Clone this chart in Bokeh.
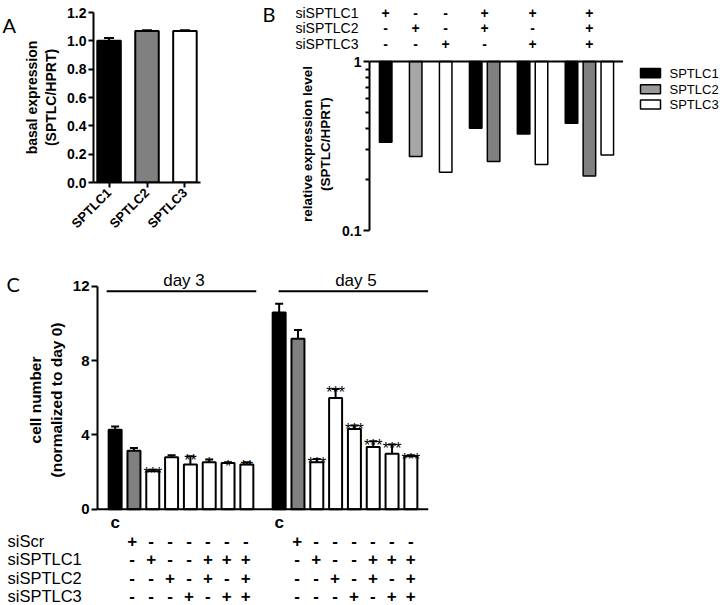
import math
from bokeh.plotting import figure
from bokeh.layouts import column, row
from bokeh.models import (FactorRange, Range1d, Span, FixedTicker, PrintfTickFormatter,
                          CustomJSTickFormatter, ColumnDataSource)
from bokeh.core.properties import value
from bokeh.embed import file_html
from bokeh.resources import INLINE

FONT = "Liberation Sans"
LETTER_FONT = "Lato"

# ---------------- Panel A data ----------------
a_genes = ["SPTLC1", "SPTLC2", "SPTLC3"]
a_values = [1.00, 1.07, 1.07]
a_errors = [0.02, 0.005, 0.005]
a_colors = ["#000000", "#808080", "#ffffff"]
a_ticks = [0.0, 0.2, 0.4, 0.6, 0.8, 1.0, 1.2]

# ---------------- Panel B data ----------------
b_genes = ["SPTLC1", "SPTLC2", "SPTLC3"]
b_legend_colors = ["#000000", "#999999", "#ffffff"]
b_conditions = ["1", "2", "3", "1+2", "1+3", "1+2+3"]
b_bar_condition = ["1", "2", "3", "1+2", "1+2", "1+3", "1+3", "1+2+3", "1+2+3", "1+2+3"]
b_bar_gene = ["SPTLC1", "SPTLC2", "SPTLC3", "SPTLC1", "SPTLC2", "SPTLC1", "SPTLC3", "SPTLC1", "SPTLC2", "SPTLC3"]
b_bar_value = [0.333, 0.274, 0.221, 0.403, 0.256, 0.373, 0.246, 0.431, 0.210, 0.280]
b_bar_fill = ["#000000", "#a6a6a6", "#ffffff", "#000000", "#808080", "#000000", "#ffffff", "#000000", "#808080", "#ffffff"]
b_major_ticks = [0.1, 1]
b_minor_ticks = [0.2, 0.3, 0.4, 0.5, 0.6, 0.7, 0.8, 0.9]
b_rows = ["siSPTLC1", "siSPTLC2", "siSPTLC3"]
b_signs = [["+", "-", "-", "+", "+", "+"],
           ["-", "+", "-", "+", "-", "+"],
           ["-", "-", "+", "-", "+", "+"]]
b_row_y = [12, 27, 43]            # header rows, px from top (layout)
b_legend_y = [19, 38.5, 57]       # legend rows, px from top of legend area (layout)

# ---------------- Panel C data ----------------
c_days = ["day 3", "day 5"]
c_keys = ["c", "scr", "1", "2", "3", "1+2", "1+3", "1+2+3"]
c_colors = ["#000000", "#808080", "#ffffff", "#ffffff", "#ffffff", "#ffffff", "#ffffff", "#ffffff"]
c_day3_mean = [4.28, 3.15, 2.04, 2.80, 2.40, 2.53, 2.49, 2.40]
c_day3_err = [0.17, 0.14, 0.09, 0.10, 0.45, 0.14, 0.04, 0.13]
c_day5_mean = [10.59, 9.18, 2.53, 5.99, 4.32, 3.35, 2.99, 2.85]
c_day5_err = [0.47, 0.46, 0.17, 0.48, 0.18, 0.31, 0.49, 0.05]
c_day3_stars = ["", "", "***", "", "**", "*", "*", "**"]
c_day5_stars = ["", "", "***", "***", "***", "***", "***", "***"]
c_rows = ["siScr", "siSPTLC1", "siSPTLC2", "siSPTLC3"]
c_signs = [["+", "-", "-", "-", "-", "-", "-"],
           ["-", "+", "-", "-", "+", "+", "+"],
           ["-", "-", "+", "-", "+", "-", "+"],
           ["-", "-", "-", "+", "-", "+", "+"]]
c_yticks = [0, 4, 8, 12]
c_ctrl_y = -0.72                  # "c" row, data units (layout)
c_row_y = [9.5, 27.5, 46, 64]     # table rows, px from top of table (layout)
c_header_shift = [0.0, 0.42]      # day header offsets (layout)


def style_axis(ax, size):
    ax.axis_line_width = 2
    ax.axis_line_color = "black"
    ax.major_tick_line_width = 2
    ax.major_tick_line_color = "black"
    ax.major_tick_in = 0
    ax.major_tick_out = 5
    ax.minor_tick_line_color = None
    ax.major_label_text_font = FONT
    ax.major_label_text_font_size = f"{size}px"
    ax.major_label_text_font_style = "bold"
    ax.major_label_text_color = "black"
    ax.major_label_standoff = 2
    ax.axis_label_text_font = FONT
    ax.axis_label_text_font_style = "bold"
    ax.axis_label_text_color = "black"


def base(p):
    p.xgrid.visible = False
    p.ygrid.visible = False
    p.outline_line_color = None
    p.background_fill_color = "white"
    p.border_fill_color = "white"


def blank(width, height, x_range, y_range, right=0):
    p = figure(width=width, height=height, x_range=x_range, y_range=y_range,
               x_axis_location=None, y_axis_location=None,
               output_backend="svg", toolbar_location=None,
               min_border_left=0, min_border_right=right, min_border_top=0, min_border_bottom=0)
    base(p)
    return p


def letter(txt, width, height, x, y):
    p = blank(width, height, Range1d(0, width), Range1d(height, 0))
    p.text(x=[x], y=[y], text=[txt], text_font=value(LETTER_FONT), text_font_size="20px",
           text_baseline="top", text_align="left", text_color="black")
    return p


# ======================= Panel A =======================
letA = letter("A", 20, 263, 2, 1)
pA = figure(width=190, height=263,
            x_range=FactorRange(factors=a_genes, range_padding=-0.06),
            y_range=Range1d(0, 1.2), output_backend="svg", toolbar_location=None,
            min_border_left=71, min_border_right=10, min_border_top=12, min_border_bottom=81)
base(pA)
a_tops = [v + e for v, e in zip(a_values, a_errors)]
pA.segment(x0=a_genes, x1=a_genes, y0=a_values, y1=a_tops, line_color="black", line_width=2)
pA.vbar(x=a_genes, top=a_values, width=0.62, fill_color=a_colors, line_color="black", line_width=2)
pA.scatter(x=a_genes, y=a_tops, marker="dash", size=10, line_color="black", line_width=2)
style_axis(pA.yaxis[0], 14)
style_axis(pA.xaxis[0], 13)
pA.yaxis.ticker = FixedTicker(ticks=a_ticks)
pA.yaxis.formatter = PrintfTickFormatter(format="%.1f")
pA.yaxis.axis_label = "basal expression\n(SPTLC/HPRT)"
pA.yaxis.axis_label_text_font_size = "14px"
pA.yaxis.axis_label_standoff = 5
pA.xaxis.major_label_orientation = math.pi / 4
pA.xaxis.major_label_standoff = 3

# ======================= Panel B =======================
b_factors = list(zip(b_bar_condition, b_bar_gene))
b_xr = FactorRange(factors=b_factors, group_padding=0.676, range_padding=0.0605)
hdr_yr = Range1d(53, 0)

hdrBL = blank(159, 53, Range1d(0, 159), hdr_yr)
hdrBL.text(x=[52], y=[1], text=["B"], text_font=value(LETTER_FONT), text_font_size="20px",
           text_baseline="top", text_align="left", text_color="black")
hdrBL.text(x=[85] * len(b_rows), y=b_row_y, text=b_rows, text_font=value(FONT),
           text_font_size="14px", text_baseline="middle", text_align="left", text_color="black")


def group_center(cond):
    genes = [g for c, g in b_factors if c == cond]
    n = len(genes)
    if n % 2:
        return (cond, genes[n // 2])
    return (cond, genes[n // 2 - 1], 0.5)


hdrBR = blank(351, 53, b_xr, hdr_yr, right=97)
hx, hy, ht = [], [], []
for r_i in range(len(b_rows)):
    for c_i, cond in enumerate(b_conditions):
        hx.append(group_center(cond))
        hy.append(b_row_y[r_i])
        ht.append(b_signs[r_i][c_i])
hdrBR.text(x=hx, y=hy, text=ht, text_align="center", text_baseline="middle",
           text_font=value(FONT), text_font_style="bold", text_font_size="14px", text_color="black")

pB = figure(width=413, height=210, x_range=b_xr,
            y_range=Range1d(0.1, 1.056), y_axis_type="log", x_axis_location=None,
            output_backend="svg", toolbar_location=None,
            min_border_left=159, min_border_right=0, min_border_top=4, min_border_bottom=33)
base(pB)
for gene in b_genes:
    idx = [i for i, g in enumerate(b_bar_gene) if g == gene]
    src = ColumnDataSource(dict(x=[b_factors[i] for i in idx],
                                bottom=[b_bar_value[i] for i in idx],
                                fill=[b_bar_fill[i] for i in idx]))
    pB.vbar(x="x", top=1, bottom="bottom", width=0.7, fill_color="fill",
            line_color="black", line_width=1.5, source=src)
pB.add_layout(Span(location=1, dimension="width", line_color="black", line_width=2))
ya = pB.yaxis[0]
style_axis(ya, 14)
ya.bounds = (0.1, 1)
ya.ticker = FixedTicker(ticks=b_major_ticks, minor_ticks=b_minor_ticks)
ya.formatter = CustomJSTickFormatter(code="return tick.toString();")
ya.major_tick_out = 6
ya.minor_tick_line_color = "black"
ya.minor_tick_line_width = 2
ya.minor_tick_in = 0
ya.minor_tick_out = 4
ya.axis_label = "relative expression level\n(SPTLC/HPRT)"
ya.axis_label_text_font_size = "13.5px"
ya.axis_label_standoff = 6

# legend area for B (drawn key)
legB = blank(97, 210, Range1d(0, 97), Range1d(210, 0))
legB.rect(x=[27] * len(b_genes), y=b_legend_y, width=20, height=11,
          fill_color=b_legend_colors, line_color="black", line_width=1.5)
legB.text(x=[46] * len(b_genes), y=b_legend_y, text=b_genes, text_font=value(FONT),
          text_font_size="13px", text_baseline="middle", text_align="left", text_color="black")

# ======================= Panel C =======================
c_factors = [(d, k) for d in c_days for k in c_keys]
c_means = c_day3_mean + c_day5_mean
c_errs = c_day3_err + c_day5_err
c_stars = c_day3_stars + c_day5_stars
c_tops = [m + e for m, e in zip(c_means, c_errs)]
c_xr = FactorRange(factors=c_factors, group_padding=0.717, range_padding=0.0523)

letC = letter("C", 24, 268, 6, 4)
pC = figure(width=416, height=268, x_range=c_xr,
            y_range=Range1d(-1.2, 12.955), x_axis_location=None,
            output_backend="svg", toolbar_location=None,
            min_border_left=71, min_border_right=12, min_border_top=5, min_border_bottom=0)
base(pC)
pC.segment(x0=c_factors, x1=c_factors, y0=c_means, y1=c_tops, line_color="black", line_width=2)
pC.vbar(x=c_factors, top=c_means, width=0.69, fill_color=c_colors * 2,
        line_color="black", line_width=2)
pC.scatter(x=c_factors, y=c_tops, marker="dash", size=8, line_color="black", line_width=2)
pC.text(x=c_factors, y=c_tops, text=c_stars, text_align="center", text_baseline="alphabetic",
        y_offset=4, text_font=value(FONT), text_font_size="16px", text_color="black")
pC.add_layout(Span(location=0, dimension="width", line_color="black", line_width=2))
hdr_x = [(d, c_keys[3], 0.5 + s + 0.16) for d, s in zip(c_days, c_header_shift)]
pC.text(x=hdr_x, y=[12.31, 12.31], text=c_days, text_align="center", text_baseline="middle",
        text_font=value(FONT), text_font_size="17px", text_color="black")
pC.segment(x0=[(d, c_keys[0], -0.45 + s) for d, s in zip(c_days, c_header_shift)],
           x1=[(d, c_keys[-1], 0.5 + s) for d, s in zip(c_days, c_header_shift)],
           y0=[11.73, 11.73], y1=[11.73, 11.73], line_color="black", line_width=2)
pC.text(x=[(d, c_keys[0]) for d in c_days], y=[c_ctrl_y] * len(c_days), text=["c"] * len(c_days),
        text_align="center", text_baseline="middle", text_font=value(FONT),
        text_font_style="bold", text_font_size="17px", text_color="black")
yc = pC.yaxis[0]
style_axis(yc, 15)
yc.bounds = (0, 12)
yc.ticker = FixedTicker(ticks=c_yticks)
yc.major_tick_out = 6
yc.axis_label = "cell number\n(normalized to day 0)"
yc.axis_label_text_font_size = "15.5px"
yc.axis_label_standoff = 5

# table under C
tbl_yr = Range1d(74, 0)
tblL = blank(95, 74, Range1d(0, 95), tbl_yr)
tblL.text(x=[7] * len(c_rows), y=c_row_y, text=c_rows, text_font=value(FONT),
          text_font_size="16.5px", text_baseline="middle", text_align="left", text_color="black")
tblR = blank(345, 74, c_xr, tbl_yr, right=12)
tx, ty, tt = [], [], []
for d in c_days:
    for r_i in range(len(c_rows)):
        for k_i, k in enumerate(c_keys[1:]):
            tx.append((d, k))
            ty.append(c_row_y[r_i])
            tt.append(c_signs[r_i][k_i])
tblR.text(x=tx, y=ty, text=tt, text_align="center", text_baseline="middle",
          text_font=value(FONT), text_font_style="bold", text_font_size="17px", text_color="black")

layout = column(
    row(letA, pA, column(row(hdrBL, hdrBR), row(pB, legB))),
    row(letC, pC),
    row(tblL, tblR),
)
open("out.html", "w").write(file_html(layout, INLINE))
